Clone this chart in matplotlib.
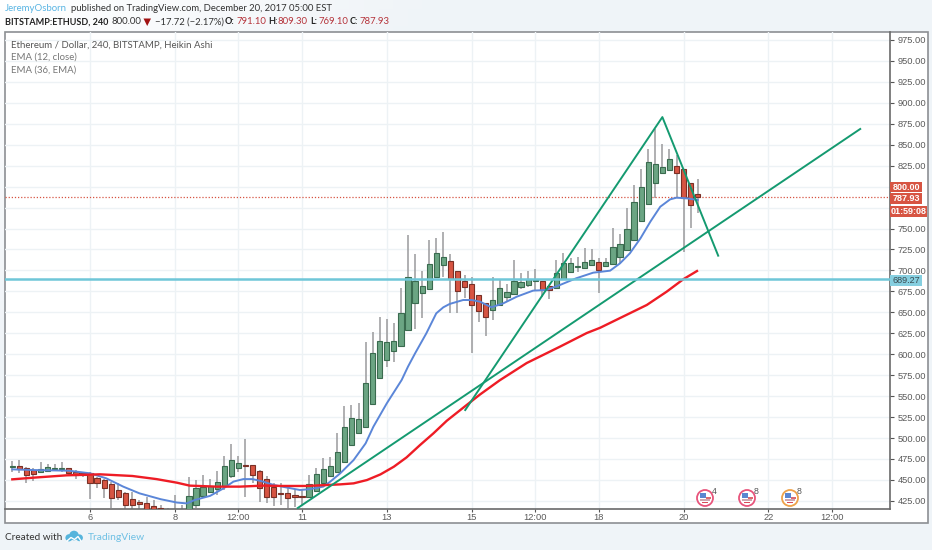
import numpy as np
import matplotlib
matplotlib.use("Agg")
import matplotlib.pyplot as plt
from matplotlib.patches import Rectangle, Circle, Polygon

plt.rcParams['font.family'] = ['Lato', 'DejaVu Sans']

# heikin ashi candles, one per bar
opens = [465.4,466.6,464.6,461.8,459.1,461,462.7,462.7,463.9,459.8,457.9,457.9,452.3,449.9,445,438,434,426.9,423.7,422.1,
         418.9,417,412,408,404,400,420.5,431.2,435.9,439.5,443.1,454.7,464.2,467.5,467.5,461,450.8,441.9,434.4,434.4,
         432,430,430,437.2,446.7,454.7,459.8,471.8,491.7,506.4,513.5,540.2,571.3,593.1,603.5,609.8,629.3,660.8,673.4,677.5,
         692.5,706.5,710.9,699.3,687.4,683.4,670.3,660.8,653.1,659.1,668.3,671.5,680.2,683,687,687.4,681.8,679.4,689.4,698.5,
         703.7,703.2,706.8,709.7,705.6,707.3,716.4,724,736.7,758.6,778.9,804.3,815.9,819.5,825,820.7,804,791.1]
highs = [472.6,473.8,465.4,464.2,471.4,469,469,471.8,464,461.8,459.8,459,453,450.8,447.9,445.9,436,436,426,430,
         426,420,416,432,420,453.1,449.9,455.9,450.8,461,478.5,492.9,478.5,498.8,467.5,462,455,446.2,446.2,443.9,
         438,438,455.9,464.2,476.2,477.4,505.6,538.2,539.4,541.8,615,626.5,644.8,642,637.3,679,742.3,719.6,699.7,736.3,
         738.7,745.9,719.6,699.3,694.5,691.8,670.3,660.8,692.5,688.6,683.8,712.4,696.9,699.3,701.3,687.4,681.8,712.4,720.8,714.8,
         716,726.4,725.6,715.2,714.8,750.3,743.1,774.8,801.9,820.7,844.9,868.8,850.9,844.9,837.7,820.7,804,809.3]
lows = [459.4,458.2,446.7,448.7,458.2,459.4,461,459.8,455.9,450.8,453.9,427.2,440,428.8,416,426,414,414,414,412,
        409,405,402,400,400,395,416.5,428.1,434,432,438,452.3,459.8,430,446,424,422.4,418.9,420,416.5,
        418,420,429.6,435.6,446.3,453.5,459.8,470.2,491.7,506,512,540,571,585.1,591,609.8,628.5,630.1,643.6,677.5,
        692.5,692.5,649.2,649.6,667.1,601.8,638.8,622.1,640.8,658.9,662.7,671.5,677.8,680.6,676.6,667.9,665.9,679,688.6,698.1,
        698.5,702.9,706.5,672.7,704.1,707.3,708.5,724,736.7,758.6,778.9,786.8,815.9,819.5,786.8,721.6,751,769.1]
closes = [466.6,463.4,456.2,457.4,462.7,465,463.9,463.9,457.9,455.5,456.2,446.7,446.7,440.7,428.8,429.3,419.7,420.5,421.6,414,
          411.7,410,406,404,409,430.8,440.7,441.9,442.7,447.2,466.6,473.4,469.8,466.2,455.5,440.7,430,429.3,433.2,428,
          429.3,429.3,445.1,457.1,463,466.6,483.3,513.5,523.9,522.7,566,601.5,616.1,614.6,616.1,649.2,692.5,687.7,681.4,707.3,
          720.4,716.4,690.1,675,679.9,658.4,651.2,644.1,664.7,679.4,674.2,687.7,686.5,690.1,687.7,676.6,676.6,696.6,709.2,708.5,
          704.4,710,712.4,700.5,709.7,727.6,731.2,749.1,781.3,799.2,829,827,823,832.6,816.6,786.8,777.7,787.93]

ema12_bar = [0,3,8,11,13.3,15.7,18,21,23.3,24.7,25.8,28,29.9,31.3,32.7,34,35.5,37,38.8,40.7,42.1,44,45,46.4,48.3,50,51.1,53,55.1,
             56,57,58.6,60,61,61.9,63.8,65,66.2,67.8,69.5,71.4,73.7,75.6,77.5,79.8,82.2,84.6,86,87.4,88.9,90.3,91.7,93.1,94,95.5,97]
ema12_val = [462.6,461.8,461,457.9,451.9,442,434,427,423,422,426,431,440,448,451,451,448,444,441,438,439,442,448,457.8,473.7,493.6,513.5,541.4,569.2,
             585.2,601,625,648.8,656,660,664.7,664.7,662.7,656,660.8,668.7,675.9,676.7,682.6,690.6,697.3,699.7,708.4,720.4,738.3,758.2,776,784.8,786.8,786,784]
ema36_bar = [0,3,7.7,12.4,17,20.4,23.3,25.1,28.9,32.2,35.5,38.3,41.7,46.4,48.3,50.2,52.1,54,55.8,57.7,59.6,61.5,63.4,66.2,69,72.8,77.5,81.3,83.2,89.8,92.6,95,96.9]
ema36_val = [450.7,452.7,455.5,456.7,454.7,451,446.7,443.2,442,442,443.2,442.8,442.8,444.7,445.9,449.9,456.6,465.8,476.9,491.6,505.6,520.7,533.4,552,569,589.5,609,625.3,631.6,658.8,674.6,689.7,699.3]

# drawn trend lines
line_a_bar = [40.4, 120]
line_a_val = [416.5, 868.8]
line_b_bar = [64.1, 92, 99.9]
line_b_val = [533.4, 883, 717.6]

support = 689.27
last_close = 787.93
last_price = 800.00

y_ticks = [425 + 25 * i for i in range(23)]
hidden_y_labels = [775, 800]  # covered by the price tags
x_tick_bars = [11, 23, 32, 41, 53, 65, 74, 83, 95, 107, 116]
x_tick_labels = ['6', '8', '12:00', '11', '13', '15', '12:00', '18', '20', '22', '12:00']

UP, DOWN = '#6ba583', '#d75442'
UP_EDGE, DOWN_EDGE = '#3a6b4f', '#7a3026'
WICK = '#9a9a9c'
TEAL = '#149a70'
GRID = '#edf2f5'
CYAN = '#6fc6d8'

W, H = 932, 550
fig = plt.figure(figsize=(W / 100, H / 100), dpi=100)

# page background, white top left going to pale blue
bg = fig.add_axes([0, 0, 1, 1], zorder=0)
gx, gy = np.meshgrid(np.linspace(0, 1, 64), np.linspace(0, 1, 64))
t = np.clip((gx * 2.2 + gy * 1.6) / 1.0, 0, 1)[..., None]
bg.imshow(np.array([1, 1, 1]) * (1 - t) + np.array([0.941, 0.957, 0.973]) * t, extent=[0, W, H, 0], aspect='auto')
bg.set_xlim(0, W)
bg.set_ylim(H, 0)
bg.axis('off')
bg.add_patch(Rectangle((5, 32), 922.5, 491, fc='white', ec='#8c8f93', lw=1.2))

# price panel, pixel box 5..889.5 x 32..509
x_per_bar = 7.066
ax = fig.add_axes([5 / W, 1 - 509 / H, 884.5 / W, 477 / H], zorder=1)
ax.patch.set_alpha(0)
ax.set_xlim((5 - 12.3) / x_per_bar, (889.5 - 12.3) / x_per_bar)
ax.set_ylim(1022.7 - 1.1933 * 509, 1022.7 - 1.1933 * 32)

ax.set_xticks(x_tick_bars)
ax.set_xticklabels(x_tick_labels)
ax.set_yticks(y_ticks)
ax.set_yticklabels(['' if v in hidden_y_labels else '%.2f' % v for v in y_ticks])
ax.yaxis.tick_right()
ax.tick_params(axis='y', length=3, width=0.8, color='#555555', labelcolor='#5a5a5a', pad=3)
ax.tick_params(axis='x', length=2.5, width=0.8, color='#555555', labelcolor='#5a5a5a', pad=0.5)
for lab in ax.get_xticklabels() + ax.get_yticklabels():
    lab.set_fontfamily('Liberation Sans')
    lab.set_fontsize(6.7)
ax.grid(True, color=GRID, lw=1)
ax.set_axisbelow(True)
for side in ['top', 'left']:
    ax.spines[side].set_visible(False)
for side in ['right', 'bottom']:
    ax.spines[side].set_color('#6a6a6a')
    ax.spines[side].set_linewidth(1.2)

bars = np.arange(len(closes))
o = np.array(opens)
h = np.array(highs)
l = np.array(lows)
c = np.array(closes)
up = c >= o
ax.vlines(bars, l, h, color=WICK, lw=1.1, zorder=2)
body = np.maximum(np.abs(c - o), 1.0)
ax.bar(bars[up], body[up], bottom=np.minimum(o, c)[up], width=0.74, color=UP, edgecolor=UP_EDGE, lw=0.8, zorder=3)
ax.bar(bars[~up], body[~up], bottom=np.minimum(o, c)[~up], width=0.74, color=DOWN, edgecolor=DOWN_EDGE, lw=0.8, zorder=3)

ax.plot(ema12_bar, ema12_val, color='#5b86d8', lw=1.4, zorder=4)
ax.plot(ema36_bar, ema36_val, color='#ee1c25', lw=1.7, zorder=4)
ax.plot(line_a_bar, line_a_val, color=TEAL, lw=1.4, zorder=5)
ax.plot(line_b_bar, line_b_val, color=TEAL, lw=1.4, zorder=5)
ax.axhline(support, color=CYAN, lw=1.8, zorder=6)
ax.axhline(last_close, color=DOWN, lw=0.9, ls=(0, (1, 1.5)), zorder=2)

# overlay in pixel coords for header, tags, icons
ov = fig.add_axes([0, 0, 1, 1], zorder=2)
ov.set_xlim(0, W)
ov.set_ylim(H, 0)
ov.axis('off')
ov.patch.set_alpha(0)


def txt(x, y, s, color='#333333', size=6.8, weight='normal', family=None, ha='left'):
    ov.text(x, y, s, color=color, fontsize=size, fontweight=weight, va='center', ha=ha,
            family=family or ['Lato', 'DejaVu Sans'])


txt(5, 8.5, 'JeremyOsborn', color='#58b4e3', size=6.95)
txt(71, 8.5, 'published on TradingView.com, December 20, 2017 05:00 EST')
txt(5, 22, 'BITSTAMP:ETHUSD, 240', color='#222222', weight='bold', size=6.5)
txt(112, 22, '800.00')
ov.add_patch(Polygon([[143.5, 18.5], [151, 18.5], [147.2, 26]], fc='#a11212', ec='none'))
txt(155, 22, '\u221217.72 (\u22122.17%)')
for x_lab, lab, x_val, val in [(225, 'O:', 236, 791.10), (268, 'H:', 278, 809.30), (310, 'L:', 318, 769.10), (350, 'C:', 359, 787.93)]:
    txt(x_lab, 22, lab, color='#222222', weight='bold', size=6.5)
    txt(x_val, 22, '%.2f' % val, color='#b5333a')

txt(11, 44.7, 'Ethereum / Dollar, 240, BITSTAMP, Heikin Ashi', color='#555555', size=6.95)
txt(11, 57.5, 'EMA (12, close)', color='#777777', size=6.95)
txt(11, 70, 'EMA (36, EMA)', color='#777777', size=6.95)

# price tags on the right axis
tags = [(182, 192, 922, '800.00', DOWN), (193, 204, 922, '787.93', DOWN), (206, 217, 927, '01:59:08', DOWN), (275, 286, 922, '689.27', '#86cfe0')]
for top, bottom, right, label, col in tags:
    ov.add_patch(Rectangle((890, top), right - 890, bottom - top, fc=col, ec='none'))
    txt((890 + right) / 2 + 0.5, (top + bottom) / 2, label, color='white' if col == DOWN else '#3a4a50',
        size=6.5, weight='bold' if col == DOWN else 'normal', family='Liberation Sans', ha='center')

# economic event flags
for cx, ring, num in [(705, '#e8557c', '4'), (747, '#e8557c', '8'), (790, '#eea24a', '8')]:
    ov.add_patch(Circle((cx, 498), 8, fc='white', ec=ring, lw=1.3))
    ov.add_patch(Rectangle((cx - 5, 493), 5.5, 5, fc='#5b86d0', ec='none'))
    ov.add_patch(Rectangle((cx + 0.5, 497), 5, 1.5, fc='#dd6a70', ec='none'))
    ov.add_patch(Rectangle((cx - 5, 499), 10, 1.5, fc='#cfa6b0', ec='none'))
    ov.add_patch(Rectangle((cx - 3, 501.5), 6, 1.3, fc='#d84a5a', ec='none'))
    txt(cx + 7, 492, num, color='#555555', size=6.3, family='Liberation Sans')

# footer
txt(5, 537, 'Created with', color='#333333', size=7.2)
for cx, cy, r in [(74, 535.5, 4.8), (69, 537.8, 3.6), (79.5, 537.8, 3.4)]:
    ov.add_patch(Circle((cx, cy), r, fc='#55b4dc', ec='none'))
ov.plot([67, 71, 74.5, 78, 81], [541, 537.5, 539.5, 536.5, 541], color='white', lw=1)
txt(88, 537, 'TradingView', color='#6fc0e4', size=7.4)

fig.savefig('out.png', dpi=100)
